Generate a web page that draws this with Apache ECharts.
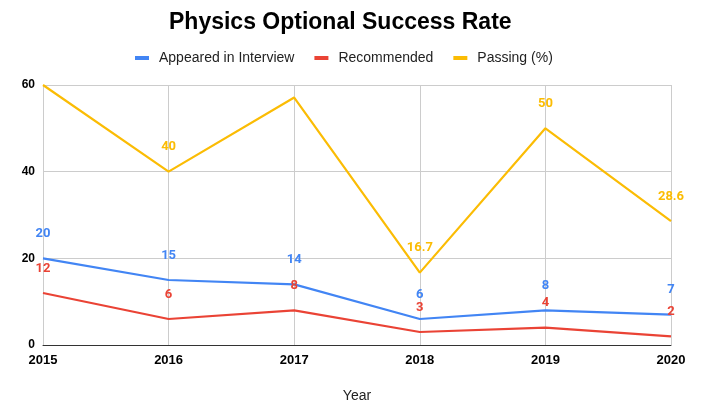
<!DOCTYPE html>
<html><head><meta charset="utf-8">
<script src="https://cdn.jsdelivr.net/npm/echarts@6/dist/echarts.min.js"></script>
<style>html,body{margin:0;padding:0;background:#fff}#c{width:701px;height:403px}</style>
</head><body><div id="c"></div>
<script>
const years = ['2015','2016','2017','2018','2019','2020'];
const appeared = [20, 15, 14, 6, 8, 7];
const recommended = [12, 6, 8, 3, 4, 2];
const passing = [60, 40, 57.1, 16.7, 50, 28.6];
const passingLabelShown = [false, true, false, true, true, true];
const yTicks = [0, 20, 40, 60];

const chart = echarts.init(document.getElementById('c'));
const lbl = (color) => ({show:true, position:'top', distance:18, color:color, fontFamily:'Roboto', fontWeight:'bold', fontSize:13});
chart.setOption({
  animation:false,
  title:{text:'Physics Optional Success Rate', left:169, top:11, padding:0,
    textStyle:{fontFamily:'Liberation Sans', fontWeight:'bold', fontSize:23, color:'#000'}},
  legend:{top:51, left:135, padding:0, itemWidth:14, itemHeight:4, itemGap:20, icon:'rect',
    textStyle:{fontFamily:'Liberation Sans', fontSize:14, color:'#222', padding:[0,0,0,5]},
    data:['Appeared in Interview','Recommended','Passing (%)']},
  grid:{left:43, right:30, top:85, bottom:58, containLabel:false, outerBoundsMode:'none'},
  xAxis:{type:'category', data:years, boundaryGap:false, name:'Year', nameLocation:'middle', nameGap:44,
    nameTextStyle:{fontFamily:'Liberation Sans', fontSize:14, color:'#222'},
    axisLine:{lineStyle:{color:'#333', width:1}}, axisTick:{show:false},
    axisLabel:{fontFamily:'Liberation Sans', fontWeight:'bold', fontSize:13, color:'#000', margin:9},
    splitLine:{show:true, lineStyle:{color:'#ccc'}}},
  yAxis:{type:'value', min:yTicks[0], max:yTicks[yTicks.length-1], interval:20,
    axisLine:{show:false}, axisTick:{show:false},
    axisLabel:{fontFamily:'Liberation Sans', fontWeight:'bold', fontSize:12, color:'#000', margin:8},
    splitLine:{lineStyle:{color:'#ccc'}}},
  series:[
    {name:'Appeared in Interview', type:'line', data:appeared, color:'#4285f4', symbol:'circle', symbolSize:0,
      lineStyle:{width:2.2}, label:lbl('#4285f4'), z:3},
    {name:'Recommended', type:'line', data:recommended, color:'#ea4335', symbol:'circle', symbolSize:0,
      lineStyle:{width:2.2}, label:lbl('#ea4335'), z:4},
    {name:'Passing (%)', type:'line', color:'#fbbc04', symbol:'circle', symbolSize:0, lineStyle:{width:2.2},
      data:passing.map((v,i)=>({value:v, label:{show:passingLabelShown[i]}})),
      label:lbl('#fbbc04'), z:2}
  ]
});
</script></body></html>
